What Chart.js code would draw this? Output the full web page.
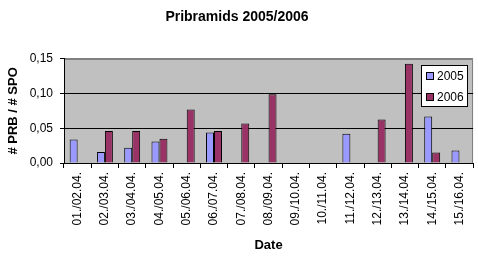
<!DOCTYPE html>
<html>
<head>
<meta charset="utf-8">
<script src="https://cdn.jsdelivr.net/npm/chart.js@4/dist/chart.umd.min.js"></script>
<style>
  body { margin: 0; background: #fff; }
  canvas { display: block; }
</style>
</head>
<body>
<canvas id="pribramids" width="478" height="262"></canvas>
<script>
// dates (day pairs in April)
var dates = ['01./02.04.', '02./03.04.', '03./04.04.', '04./05.04.', '05./06.04.',
             '06./07.04.', '07./08.04.', '08./09.04.', '09./10.04.', '10./11.04.',
             '11./12.04.', '12./13.04.', '13./14.04.', '14./15.04.', '15./16.04.'];
// # PRB / # SPO ratio per year (null = no bar)
var ratio2005 = [0.034, 0.016, 0.022, 0.031, null, 0.044, null, null, null, null, 0.042, null, null, 0.067, 0.018];
var ratio2006 = [null, 0.046, 0.046, 0.035, 0.077, 0.046, 0.057, 0.099, null, null, null, 0.0625, 0.143, 0.015, null];
var yTicks = [0, 0.05, 0.10, 0.15];

Chart.defaults.font.family = "'Liberation Sans', Arial, sans-serif";
Chart.defaults.font.size = 12;
Chart.defaults.color = '#000';

// grey plot area with grey border on top / right
var plotBackground = {
  id: 'plotBackground',
  beforeDraw: function(chart) {
    var a = chart.chartArea, ctx = chart.ctx;
    ctx.save();
    ctx.fillStyle = '#C0C0C0';
    ctx.fillRect(a.left, a.top, a.right - a.left, a.bottom - a.top);
    ctx.strokeStyle = '#808080';
    ctx.lineWidth = 1;
    ctx.beginPath();
    ctx.moveTo(Math.round(a.left) + 0.5, Math.round(a.top) + 0.5);
    ctx.lineTo(Math.round(a.right) - 0.5, Math.round(a.top) + 0.5);
    ctx.lineTo(Math.round(a.right) - 0.5, Math.round(a.bottom) + 0.5);
    ctx.stroke();
    ctx.restore();
  }
};

// boxed legend inside the plot, top right
var boxLegend = {
  id: 'boxLegend',
  afterDraw: function(chart) {
    var a = chart.chartArea, ctx = chart.ctx;
    var w = 47, h = 42;
    var x = Math.round(a.right) - 5 - w, y = Math.round(a.top) + 6;
    ctx.save();
    ctx.fillStyle = '#fff';
    ctx.fillRect(x, y, w, h);
    ctx.strokeStyle = '#000';
    ctx.lineWidth = 1;
    ctx.strokeRect(x + 0.5, y + 0.5, w - 1, h - 1);
    ctx.font = "12px 'Liberation Sans', Arial, sans-serif";
    ctx.textBaseline = 'middle';
    chart.data.datasets.forEach(function(ds, i) {
      var cy = y + 11 + i * 21;
      ctx.fillStyle = ds.backgroundColor;
      ctx.fillRect(x + 6, cy - 3, 6, 6);
      ctx.strokeStyle = '#000';
      ctx.strokeRect(x + 5.5, cy - 3.5, 7, 7);
      ctx.fillStyle = '#000';
      ctx.fillText(ds.label, x + 16, cy + 1);
    });
    ctx.restore();
  }
};

var chart = new Chart(document.getElementById('pribramids').getContext('2d'), {
  type: 'bar',
  data: {
    labels: dates,
    datasets: [
      { label: '2005', data: ratio2005, backgroundColor: '#9999FF', borderColor: '#000', borderWidth: 1 },
      { label: '2006', data: ratio2006, backgroundColor: '#993366', borderColor: '#000', borderWidth: 1 }
    ]
  },
  options: {
    responsive: false,
    animation: false,
    layout: { padding: { left: 0, right: 4, top: 0, bottom: 0 } },
    datasets: { bar: { barPercentage: 1, categoryPercentage: 0.585 } },
    plugins: {
      legend: { display: false },
      tooltip: { enabled: false },
      title: {
        display: true,
        text: 'Pribramids 2005/2006',
        font: { size: 14, weight: 'bold' },
        color: '#000',
        padding: { top: 9, bottom: 33 }
      }
    },
    scales: {
      x: {
        offset: true,
        grid: { offset: true, drawOnChartArea: false, color: '#000', tickLength: 5 },
        border: { color: '#000' },
        ticks: { minRotation: 90, maxRotation: 90, autoSkip: false, padding: 4, font: { size: 12 } },
        title: { display: true, text: 'Date', font: { size: 13, weight: 'bold' }, padding: { top: 0, bottom: 9 } },
        afterFit: function(scale) { scale.height = 99; }
      },
      y: {
        min: 0,
        max: 0.15,
        afterBuildTicks: function(scale) {
          scale.ticks = yTicks.map(function(v) { return { value: v }; });
        },
        grid: {
          color: function(ctx) { return ctx.tick && ctx.tick.value >= 0.149 ? '#808080' : '#000'; },
          tickColor: '#000',
          tickLength: 4
        },
        border: { color: '#000' },
        ticks: {
          padding: 7,
          font: { size: 12 },
          callback: function(v) { return Number(v).toFixed(2).replace('.', ','); }
        },
        title: { display: true, text: '# PRB / # SPO', font: { size: 13, weight: 'bold' }, padding: { top: 6, bottom: 0 } },
        afterFit: function(scale) { scale.width = 64; }
      }
    }
  },
  plugins: [plotBackground, boxLegend]
});
</script>
</body>
</html>
